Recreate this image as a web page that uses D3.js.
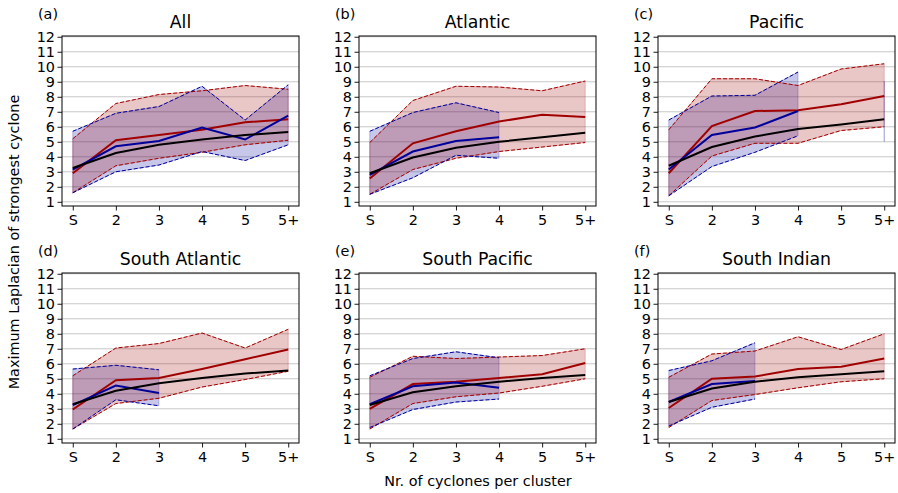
<!DOCTYPE html>
<html>
<head>
<meta charset="utf-8">
<script src="https://cdn.jsdelivr.net/npm/d3@7"></script>
<style>
  body { margin: 0; background: #fff; }
  svg text { font-family: "DejaVu Sans", sans-serif; fill: #000; }
</style>
</head>
<body>
<script>
// categories on the x axis
const categories = ['S', '2', '3', '4', '5', '5+'];
const panelNames = ['All', 'Atlantic', 'Pacific', 'South Atlantic', 'South Pacific', 'South Indian'];
const panelTags = ['(a)', '(b)', '(c)', '(d)', '(e)', '(f)'];
const yTicks = [1, 2, 3, 4, 5, 6, 7, 8, 9, 10, 11, 12];

// red series: median, upper and lower bound, one row per panel
const redMid = [
  [2.9, 5.1, 5.45, 5.8, 6.3, 6.5],
  [2.55, 4.9, 5.7, 6.35, 6.8, 6.65],
  [2.9, 6.05, 7.05, 7.1, 7.5, 8.05],
  [2.95, 4.9, 5.05, 5.65, 6.3, 6.95],
  [3.0, 4.65, 4.8, 5.05, 5.3, 6.05],
  [3.05, 5.0, 5.15, 5.65, 5.8, 6.35]
];
const redHi = [
  [5.2, 7.55, 8.15, 8.4, 8.75, 8.5],
  [4.95, 7.75, 8.7, 8.65, 8.4, 9.05],
  [5.8, 9.2, 9.2, 8.75, 9.85, 10.2],
  [5.2, 7.05, 7.35, 8.05, 7.05, 8.3],
  [5.1, 6.5, 6.35, 6.45, 6.55, 7.0],
  [5.1, 6.65, 6.85, 7.8, 6.95, 8.0]
];
const redLo = [
  [1.6, 3.4, 3.9, 4.3, 4.8, 5.1],
  [1.5, 3.15, 3.9, 4.35, 4.65, 4.95],
  [1.4, 4.05, 4.9, 4.9, 5.75, 6.0],
  [1.65, 3.35, 3.7, 4.45, 4.95, 5.5],
  [1.65, 3.35, 3.8, 4.05, 4.5, 5.0],
  [1.75, 3.55, 3.95, 4.4, 4.8, 5.0]
];

// blue series (null where there is no data)
const blueMid = [
  [3.15, 4.7, 5.05, 5.95, 5.15, 6.75],
  [2.8, 4.35, 5.05, 5.3, null, null],
  [3.15, 5.45, 5.95, 7.05, null, null],
  [3.25, 4.55, 4.05, null, null, null],
  [3.3, 4.5, 4.75, 4.4, null, null],
  [3.45, 4.65, 4.85, null, null, null]
];
const blueHi = [
  [5.7, 6.9, 7.35, 8.7, 6.45, 8.8],
  [5.7, 6.95, 7.6, 6.95, null, null],
  [6.45, 8.05, 8.1, 9.65, null, 9.05],
  [5.65, 5.9, 5.6, null, null, null],
  [5.2, 6.35, 6.8, 6.4, null, null],
  [5.55, 6.2, 7.4, null, null, null]
];
const blueLo = [
  [1.6, 3.0, 3.45, 4.35, 3.75, 4.8],
  [1.5, 2.6, 4.1, 3.9, null, null],
  [1.4, 3.35, 4.3, 5.4, null, 5.0],
  [1.65, 3.6, 3.2, null, null, null],
  [1.75, 2.95, 3.45, 3.65, null, null],
  [1.85, 3.1, 3.65, null, null, null]
];

// black reference line
const blackMid = [
  [3.25, 4.25, 4.8, 5.15, 5.45, 5.65],
  [2.9, 3.95, 4.6, 5.0, 5.3, 5.6],
  [3.4, 4.65, 5.35, 5.85, 6.15, 6.5],
  [3.3, 4.2, 4.7, 5.05, 5.35, 5.55],
  [3.25, 4.1, 4.5, 4.8, 5.05, 5.25],
  [3.45, 4.35, 4.8, 5.1, 5.3, 5.5]
];

const RED = '#a00000';
const BLUE = '#00009a';

const W = 898, H = 493;
const lefts = [62, 359, 658];
const tops = [36, 273];
const PW = 237, PH = 170;

const svg = d3.select('body').append('svg')
  .attr('width', W).attr('height', H);

const x = d3.scalePoint().domain(categories).range([0, PW]).padding(0.25);
const y = d3.scaleLinear().domain([0.72, 12.05]).range([PH, 0]);

function rows(mid, lo, hi) {
  return categories.map((c, i) => ({c: c, mid: mid ? mid[i] : null, lo: lo ? lo[i] : null, hi: hi ? hi[i] : null}));
}

panelNames.forEach((name, p) => {
  const g = svg.append('g')
    .attr('transform', `translate(${lefts[p % 3]},${tops[Math.floor(p / 3)]})`);

  // horizontal grid
  g.append('g').selectAll('line').data(yTicks).join('line')
    .attr('x1', 0).attr('x2', PW)
    .attr('y1', d => y(d)).attr('y2', d => y(d))
    .attr('stroke', '#c8c8c8').attr('stroke-width', 1);

  const blue = rows(blueMid[p], blueLo[p], blueHi[p]);
  const red = rows(redMid[p], redLo[p], redHi[p]);
  const black = rows(blackMid[p]);

  const area = d3.area()
    .defined(d => d.lo != null && d.hi != null)
    .x(d => x(d.c)).y0(d => y(d.lo)).y1(d => y(d.hi));

  const line = key => d3.line()
    .defined(d => d[key] != null)
    .x(d => x(d.c)).y(d => y(d[key]));

  [[blue, BLUE], [red, RED]].forEach(([data, col]) => {
    g.append('path').attr('d', area(data))
      .attr('fill', col).attr('fill-opacity', 0.22)
      .attr('stroke', col).attr('stroke-opacity', 0.22).attr('stroke-width', 1);
  });

  [[red, RED], [blue, BLUE]].forEach(([data, col]) => {
    ['hi', 'lo'].forEach(k => {
      g.append('path').attr('d', line(k)(data))
        .attr('fill', 'none').attr('stroke', col)
        .attr('stroke-width', 1).attr('stroke-dasharray', '4,2');
    });
  });

  g.append('path').attr('d', line('mid')(red))
    .attr('fill', 'none').attr('stroke', RED).attr('stroke-width', 2);
  g.append('path').attr('d', line('mid')(blue))
    .attr('fill', 'none').attr('stroke', BLUE).attr('stroke-width', 2);
  g.append('path').attr('d', line('mid')(black))
    .attr('fill', 'none').attr('stroke', '#000').attr('stroke-width', 2);

  // axes
  const xa = g.append('g').attr('transform', `translate(0,${PH})`)
    .call(d3.axisBottom(x).tickSize(4.5).tickPadding(4.5));
  const ya = g.append('g')
    .call(d3.axisLeft(y).tickValues(yTicks).tickSize(4.5).tickPadding(2.5));
  [xa, ya].forEach(a => {
    a.select('.domain').remove();
    a.selectAll('line').attr('stroke', '#000').attr('stroke-width', 0.9);
    a.selectAll('text').style('font-size', '14.4px')
      .style('font-family', '"DejaVu Sans", sans-serif');
  });

  g.append('rect').attr('width', PW).attr('height', PH)
    .attr('fill', 'none').attr('stroke', '#000').attr('stroke-width', 1);

  g.append('text').attr('x', PW / 2).attr('y', -8)
    .attr('text-anchor', 'middle').style('font-size', '17.3px').text(name);
  g.append('text').attr('x', -24).attr('y', -17)
    .style('font-size', '14.4px').text(panelTags[p]);
});

svg.append('text')
  .attr('transform', `translate(19,242) rotate(-90)`)
  .attr('text-anchor', 'middle').style('font-size', '14.4px')
  .text('Maximum Laplacian of strongest cyclone');

svg.append('text')
  .attr('x', 478).attr('y', 486)
  .attr('text-anchor', 'middle').style('font-size', '14.4px')
  .text('Nr. of cyclones per cluster');
</script>
</body>
</html>
